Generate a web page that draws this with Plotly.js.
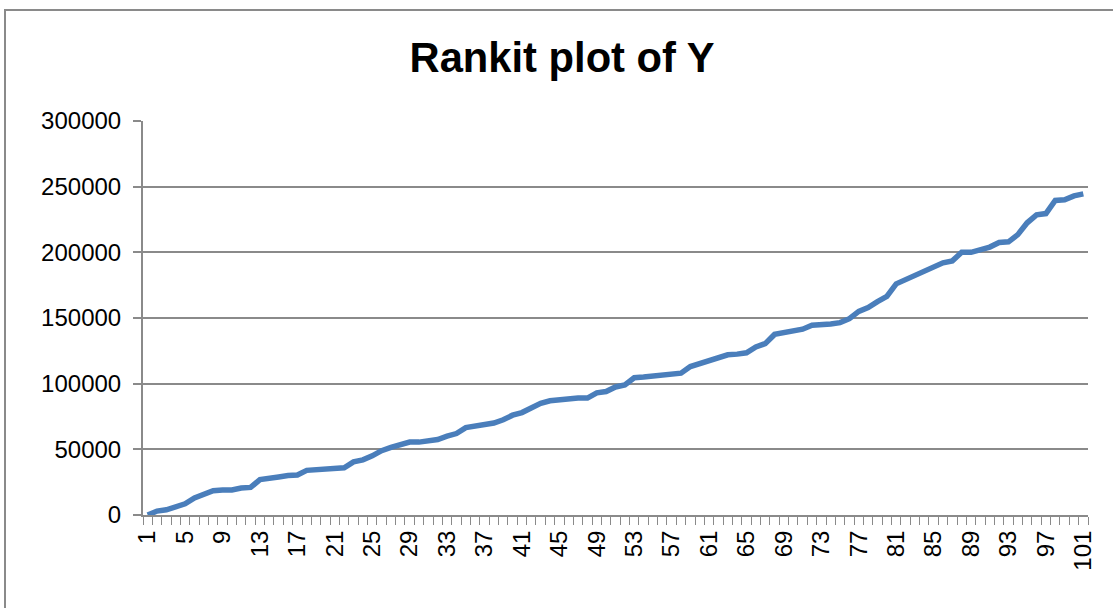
<!DOCTYPE html>
<html>
<head>
<meta charset="utf-8">
<script src="https://cdn.plot.ly/plotly-3.0.1.min.js"></script>
<style>
html,body{margin:0;padding:0;background:#fff;overflow:hidden;width:1113px;height:608px;}
#frame{position:absolute;left:4px;top:9px;width:1300px;height:800px;border:2px solid #8a8a8a;box-sizing:border-box;}
#chart{position:absolute;left:0;top:0;width:1113px;height:608px;}
</style>
</head>
<body>
<div id="frame"></div>
<div id="chart"></div>
<script>
// Rank (category) 1..101
const ranks = Array.from({length:101}, (_, i) => i + 1);
// Y values
const yValues = [
  0, 3000, 4000, 6500, 8500, 13000, 15500, 18500, 19000, 19000,
  20500, 21000, 27000, 27500, 29000, 30000, 30500, 34000, 34500, 34500,
  34500, 36000, 40500, 42000, 45000, 49000, 51500, 53500, 55500, 55500,
  56000, 57500, 60000, 62000, 66500, 67500, 69500, 70000, 72500, 76000,
  78000, 82000, 85000, 87000, 88000, 88500, 89000, 89000, 93000, 94000,
  97500, 99000, 104500, 105000, 105500, 106000, 106500, 108000, 113000, 115500,
  117500, 120500, 122000, 122500, 123500, 128000, 130500, 137500, 139000, 140500,
  141500, 144500, 144500, 145500, 146500, 149500, 155000, 158000, 162500, 166500,
  176000, 179000, 182500, 185000, 189000, 192000, 193500, 200000, 200000, 201500,
  204000, 207500, 208000, 213500, 222500, 228500, 229500, 239500, 240000, 243000,
  244500
];
const xTickVals = [1,5,9,13,17,21,25,29,33,37,41,45,49,53,57,61,65,69,73,77,81,85,89,93,97,101];
const xTickText = xTickVals.map(String);
const yTickVals = [0,50000,100000,150000,200000,250000,300000];
const yTickText = ['0','50000','100000','150000','200000','250000','300000'];
const titleText = 'Rankit plot of Y';

const trace = {
  x: ranks, y: yValues, type: 'scatter', mode: 'lines',
  line: {color: '#4a7ebb', width: 5.5, shape: 'linear'},
  hoverinfo: 'skip'
};

const tickFont = {family: 'Liberation Sans, Arial, sans-serif', size: 24, color: '#000'};

const layout = {
  width: 1113, height: 608,
  margin: {l: 143, r: 25, t: 121, b: 93, pad: 0},
  paper_bgcolor: 'rgba(0,0,0,0)',
  plot_bgcolor: 'rgba(0,0,0,0)',
  showlegend: false,
  title: {
    text: '<b>' + titleText + '</b>',
    font: {family: 'Liberation Sans, Arial, sans-serif', size: 43, color: '#000'},
    xref: 'container', yref: 'container',
    x: 0.505, xanchor: 'center', y: 1 - 57/608, yanchor: 'middle'
  },
  xaxis: {
    type: 'linear', range: [0.5, 101.5], autorange: false,
    tickmode: 'array', tickvals: xTickVals, ticktext: xTickText,
    tickangle: -90, ticks: '', ticklabelstandoff: 4,
    tickfont: tickFont,
    showgrid: false, zeroline: false,
    showline: true, linecolor: '#8a8a8a', linewidth: 2,
    minor: {tick0: 0.5, dtick: 1, ticks: 'outside', ticklen: 8, tickcolor: '#8a8a8a', tickwidth: 1, showgrid: false}
  },
  yaxis: {
    range: [0, 300000], autorange: false,
    tickmode: 'array', tickvals: yTickVals, ticktext: yTickText,
    ticks: 'outside', ticklen: 8, tickcolor: '#8a8a8a', tickwidth: 2,
    ticklabelstandoff: 7,
    tickfont: tickFont,
    showgrid: true, gridcolor: '#8a8a8a', gridwidth: 2,
    zeroline: false,
    showline: true, linecolor: '#8a8a8a', linewidth: 2
  }
};

Plotly.newPlot('chart', [trace], layout, {displayModeBar: false, staticPlot: true}).then(function(gd){
  // condense the title glyphs to the narrow width used in the reference
  const t = gd.querySelector('.gtitle');
  if (t) {
    t.setAttribute('textLength', '305');
    t.setAttribute('lengthAdjust', 'spacingAndGlyphs');
  }
});
</script>
</body>
</html>
